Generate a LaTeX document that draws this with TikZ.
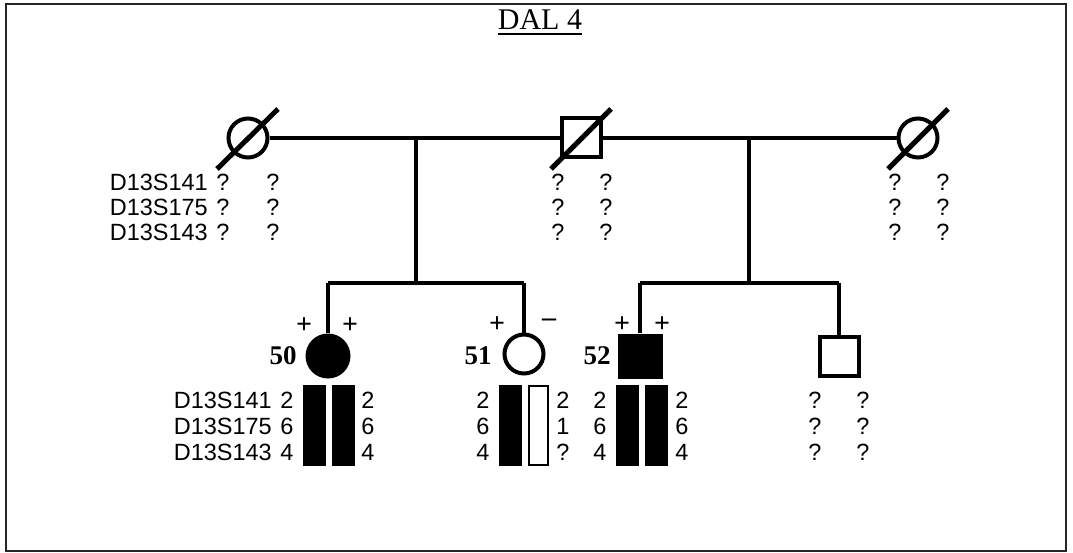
\documentclass[tikz,border=0pt]{standalone}
\usepackage{fontspec}
\setmainfont{Liberation Serif}
\setsansfont{Liberation Sans}
\begin{document}
\begin{tikzpicture}[x=1pt,y=-1pt,
  ped/.style={line width=3.3pt},
  slash/.style={line width=5pt},
  fem/.style={circle, draw, line width=4pt, minimum size=39pt, inner sep=0pt},
  male/.style={rectangle, draw, line width=4pt, minimum size=39pt, inner sep=0pt},
  afffem/.style={circle, fill=black, minimum size=45pt, inner sep=0pt},
  affmale/.style={rectangle, fill=black, minimum size=45pt, inner sep=0pt},
  mk/.style={font=\sffamily\fontsize{23.5}{23.5}\selectfont, anchor=east, inner sep=0pt},
  al/.style={font=\sffamily\fontsize{23.5}{23.5}\selectfont, inner sep=0pt},
  hbar/.style={fill=black, minimum width=23pt, minimum height=81pt, inner sep=0pt},
  obar/.style={draw, line width=2pt, fill=white, minimum width=19pt, minimum height=79pt, inner sep=0pt},
  pid/.style={font=\bfseries\fontsize{27}{27}\selectfont, inner sep=0pt},
  pm/.style={font=\bfseries\fontsize{28}{28}\selectfont, inner sep=0pt}]
\useasboundingbox (0,0) rectangle (1073,553);
\draw[line width=1.5pt, black!85] (6,4) rectangle (1066,551);

% title
\node[font=\fontsize{30}{30}\selectfont, anchor=base, inner sep=0pt] (T) at (540,30) {DAL 4};
\draw[line width=1.5pt] ([yshift=-4pt]T.base west) -- ([yshift=-4pt]T.base east);

% generation I
\node[fem] (L) at (248,138) {};
\node[male] (F) at (581,138) {};
\node[fem] (R) at (918,138) {};
\draw[slash] ([shift={(-31,31)}]L.center) -- ([shift={(30,-29)}]L.center);
\draw[slash] ([shift={(-30,31)}]F.center) -- ([shift={(30,-29)}]F.center);
\draw[slash] ([shift={(-30,31)}]R.center) -- ([shift={(30,-29)}]R.center);
\draw[ped] (L.east) -- (F.west);
\draw[ped] (F.east) -- (R.west);

\coordinate (d1) at (416,138);
\coordinate (s1) at (416,283);
\coordinate (d2) at (749,138);
\coordinate (s2) at (749,283);

% generation II
\node[afffem] (c50) at (328,356) {};
\node[fem] (c51) at (524,354) {};
\node[affmale] (c52) at (640,356) {};
\node[male] (c53) at (839,356) {};

\coordinate (a50) at (328,283);
\coordinate (a51) at (524,283);
\coordinate (a52) at (640,283);
\coordinate (a53) at (839,283);

\draw[ped] (d1) -- (s1);
\draw[ped] (a50) -- (a51);
\draw[ped] (a50) -- (c50.north);
\draw[ped] (a51) -- (c51.north);
\draw[ped] (d2) -- (s2);
\draw[ped] (a52) -- (a53);
\draw[ped] (a52) -- (c52.north);
\draw[ped] (a53) -- (c53.north);

% ids and signs
\node[pid] (n50) at (283,356) {50};
\node[pid] (n51) at (478,356) {51};
\node[pid] (n52) at (597,356) {52};
\node[pm] (p50a) at (304,326) {+};
\node[pm] (p50b) at (350,326) {+};
\node[pm] (p51a) at (497,325) {+};
\node[pm] (p51b) at (549,323) {\textendash};
\node[pm] (p52a) at (622,325) {+};
\node[pm] (p52b) at (662,325) {+};

% top markers
\node[mk] (tm1) at (208,182) {D13S141};
\node[mk] (tm2) at (208,207) {D13S175};
\node[mk] (tm3) at (208,232) {D13S143};
\foreach \x/\n in {223/a,273/b,558/c,606/d,895/e,943/f}{
  \node[al] (tq1\n) at (\x,182) {?};
  \node[al] (tq2\n) at (\x,207) {?};
  \node[al] (tq3\n) at (\x,232) {?};
}

% bottom markers
\node[mk] (bm1) at (272,400) {D13S141};
\node[mk] (bm2) at (272,426) {D13S175};
\node[mk] (bm3) at (272,452) {D13S143};

% bars
\node[hbar] (b50a) at (314.5,425) {};
\node[hbar] (b50b) at (343,425) {};
\node[hbar] (b51a) at (510,425) {};
\node[obar] (b51b) at (538.5,425) {};
\node[hbar] (b52a) at (627,425) {};
\node[hbar] (b52b) at (656,425) {};

% alleles
\foreach \x/\n/\a/\b/\c in {287/a/2/6/4,368/b/2/6/4,483/c/2/6/4,563/d/2/1/?,600/e/2/6/4,682/f/2/6/4,815/g/?/?/?,863/h/?/?/?}{
  \node[al] (r1\n) at (\x,400) {\a};
  \node[al] (r2\n) at (\x,426) {\b};
  \node[al] (r3\n) at (\x,452) {\c};
}
\end{tikzpicture}
\end{document}
